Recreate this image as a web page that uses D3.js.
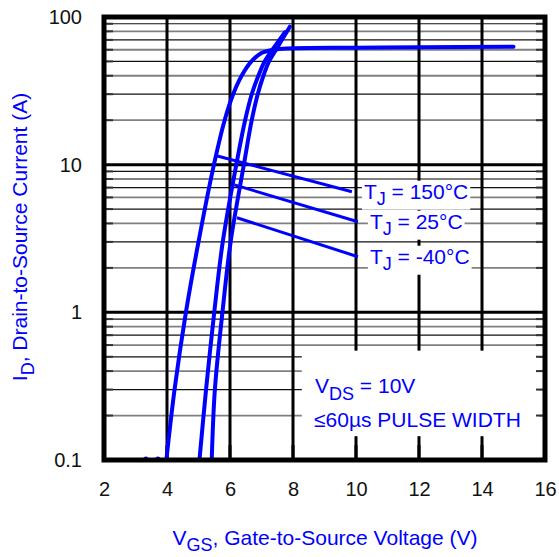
<!DOCTYPE html>
<meta charset="utf-8">
<script src="https://d3js.org/d3.v7.min.js"></script>
<style>
body { margin: 0; background: #fff; }
text { font-family: "Liberation Sans", Arial, Helvetica, sans-serif; }
</style>
<body>
<script>

// ---- data ----
var xTicks = [2, 4, 6, 8, 10, 12, 14, 16];
var yTicks = [0.1, 1, 10, 100];
var yTickLabels = ["0.1", "1", "10", "100"];

// TJ = 150C
var vgs150 = [3.98, 4.24, 4.6, 5.0, 5.49, 5.83, 6.1, 6.37, 6.68, 7.0, 7.37, 7.8, 10, 12, 15];
var id150  = [0.1, 0.3, 1, 3, 10, 20, 30, 40, 50, 57, 60, 61.3, 62, 62.5, 63];
// TJ = 25C
var vgs25 = [5.03, 5.24, 5.5, 5.77, 6.2, 6.48, 6.69, 6.9, 7.1, 7.37, 7.74];
var id25  = [0.1, 0.3, 1, 3, 10, 20, 30, 40, 50, 61, 78.7];
// TJ = -40C
var vgsM40 = [5.42, 5.52, 5.76, 6.02, 6.44, 6.69, 6.88, 7.06, 7.24, 7.48, 7.9];
var idM40  = [0.1, 0.3, 1, 3, 10, 20, 30, 40, 50, 61, 86];
// loose dots at the bottom edge left of the 150C curve
var tailVgs = [3.33, 3.71];
var tailId = [0.1, 0.1];

// label leader lines: [vgs, id] at start and end
var leaderStart = [[5.57, 11.5], [6.14, 7.3], [6.22, 4.37]];
var leaderEnd = [[9.87, 6.56], [10.06, 4.11], [10.06, 2.38]];
var leaderText = ["150°C", "25°C", "-40°C"];

var width = 559, height = 557;
var svg = d3.select("body").append("svg")
    .attr("width", width)
    .attr("height", height);

var x = d3.scaleLinear().domain([2, 16]).range([104, 545]);
var y = d3.scaleLog().domain([0.1, 100]).range([460, 17]);
var blue = "#0000ff";

// minor y values 2..9 of each decade
var minorY = [];
[0.1, 1, 10].forEach(function(d) {
    for (var k = 2; k <= 9; k++) minorY.push(d * k);
});

// grid
svg.append("g").selectAll("line").data(minorY).enter().append("line")
    .attr("x1", x(2)).attr("x2", x(16))
    .attr("y1", function(d) { return y(d); })
    .attr("y2", function(d) { return y(d); })
    .attr("stroke", function(d, i) { return i % 2 ? "#111" : "#808080"; })
    .attr("stroke-width", function(d, i) { return i % 2 ? 1.2 : 1.8; });

svg.append("g").selectAll("line").data([1, 10]).enter().append("line")
    .attr("x1", x(2)).attr("x2", x(16))
    .attr("y1", function(d) { return y(d); })
    .attr("y2", function(d) { return y(d); })
    .attr("stroke", "#000").attr("stroke-width", 3);

svg.append("g").selectAll("line").data(xTicks.slice(1, -1)).enter().append("line")
    .attr("x1", function(d) { return x(d); })
    .attr("x2", function(d) { return x(d); })
    .attr("y1", y(100)).attr("y2", y(0.1))
    .attr("stroke", "#000").attr("stroke-width", 3);

// white box for the test conditions
svg.append("rect")
    .attr("x", x(8.28)).attr("y", y(0.55))
    .attr("width", x(15.8) - x(8.28)).attr("height", y(0.145) - y(0.55))
    .attr("fill", "#fff");

// short inner ticks
svg.append("g").selectAll("line").data(minorY).enter().append("line")
    .attr("x1", x(2)).attr("x2", x(2) + 9)
    .attr("y1", function(d) { return y(d); })
    .attr("y2", function(d) { return y(d); })
    .attr("stroke", "#333").attr("stroke-width", 2);
svg.append("g").selectAll("line").data(minorY).enter().append("line")
    .attr("x1", x(16) - 9).attr("x2", x(16))
    .attr("y1", function(d) { return y(d); })
    .attr("y2", function(d) { return y(d); })
    .attr("stroke", "#333").attr("stroke-width", 2);
svg.append("g").selectAll("line").data(xTicks.slice(1, -1)).enter().append("line")
    .attr("x1", function(d) { return x(d); })
    .attr("x2", function(d) { return x(d); })
    .attr("y1", y(0.1) - 15).attr("y2", y(0.1))
    .attr("stroke", "#000").attr("stroke-width", 3);

// curves
var line = d3.line()
    .x(function(d) { return x(d[0]); })
    .y(function(d) { return y(d[1]); })
    .curve(d3.curveCatmullRom.alpha(0.5));

function zipPts(a, b) { return a.map(function(v, i) { return [v, b[i]]; }); }

[[vgs150, id150], [vgs25, id25], [vgsM40, idM40]].forEach(function(s) {
    svg.append("path")
        .attr("d", line(zipPts(s[0], s[1])))
        .attr("fill", "none")
        .attr("stroke", blue)
        .attr("stroke-width", 4)
        .attr("stroke-linecap", "round");
});

svg.append("g").selectAll("circle").data(zipPts(tailVgs, tailId)).enter().append("circle")
    .attr("cx", function(d) { return x(d[0]); })
    .attr("cy", function(d) { return y(d[1]) - 1; })
    .attr("r", 2.5)
    .attr("fill", blue);

// leader lines + labels
leaderStart.forEach(function(s, i) {
    var e = leaderEnd[i];
    svg.append("line")
        .attr("x1", x(s[0])).attr("y1", y(s[1]))
        .attr("x2", x(e[0])).attr("y2", y(e[1]))
        .attr("stroke", blue).attr("stroke-width", 3);

    var g = svg.append("g");
    var t = g.append("text")
        .attr("x", x(e[0]) + 12)
        .attr("y", y(e[1]) + 7)
        .attr("fill", blue)
        .style("font-size", "21px");
    t.append("tspan").text("T");
    t.append("tspan").attr("dy", 6).style("font-size", "18px").text("J");
    t.append("tspan").attr("dy", -6).text(" = " + leaderText[i]);
    var bb = t.node().getBBox();
    g.insert("rect", "text")
        .attr("x", bb.x - 2).attr("y", bb.y + 1)
        .attr("width", bb.width + 4).attr("height", bb.height)
        .attr("fill", "#fff");
});

// frame
svg.append("rect")
    .attr("x", x(2)).attr("y", y(100))
    .attr("width", x(16) - x(2)).attr("height", y(0.1) - y(100))
    .attr("fill", "none").attr("stroke", "#000").attr("stroke-width", 5);

// axes (labels only)
var xAxis = svg.append("g")
    .attr("transform", "translate(0," + y(0.1) + ")")
    .call(d3.axisBottom(x).tickValues(xTicks).tickSize(0).tickPadding(22));
var yAxis = svg.append("g")
    .attr("transform", "translate(" + x(2) + ",0)")
    .call(d3.axisLeft(y).tickValues(yTicks)
        .tickFormat(function(d, i) { return yTickLabels[i]; })
        .tickSize(0).tickPadding(22));
[xAxis, yAxis].forEach(function(a) {
    a.select(".domain").remove();
    a.selectAll("text").style("font-size", "20px").attr("fill", "#111")
        .style("font-family", "'Liberation Sans', Arial, sans-serif");
});

// test conditions
var c1 = svg.append("text").attr("x", 315).attr("y", 393).attr("fill", blue).style("font-size", "21px");
c1.append("tspan").text("V");
c1.append("tspan").attr("dy", 7).style("font-size", "18px").text("DS");
c1.append("tspan").attr("dy", -7).text(" = 10V");
svg.append("text").attr("x", 314).attr("y", 427).attr("fill", blue)
    .style("font-size", "21px").text("≤60µs PULSE WIDTH");

// axis titles
var xt = svg.append("text").attr("x", 325).attr("y", 545)
    .attr("text-anchor", "middle").attr("fill", blue).style("font-size", "21px");
xt.append("tspan").text("V");
xt.append("tspan").attr("dy", 6).style("font-size", "18px").text("GS");
xt.append("tspan").attr("dy", -6).text(", Gate-to-Source Voltage (V)");

var yt = svg.append("text")
    .attr("transform", "translate(27,237) rotate(-90)")
    .attr("text-anchor", "middle").attr("fill", blue).style("font-size", "21px");
yt.append("tspan").text("I");
yt.append("tspan").attr("dy", 7).style("font-size", "18px").text("D");
yt.append("tspan").attr("dy", -7).text(", Drain-to-Source  Current (A)");

</script>
</body>
</html>
